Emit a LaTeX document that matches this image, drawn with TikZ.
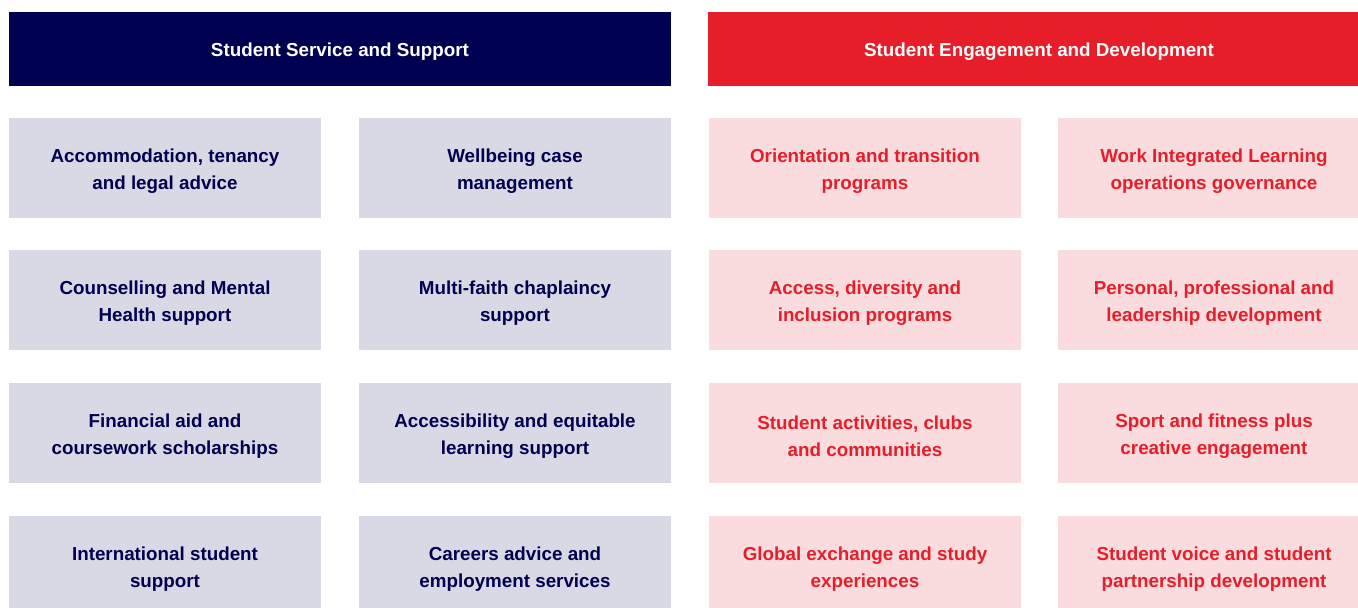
\documentclass[tikz,border=0pt]{standalone}
\usepackage{fontspec}
\setmainfont{Liberation Sans}
\definecolor{navy}{HTML}{000050}
\definecolor{brandred}{HTML}{E61E2A}
\definecolor{greybox}{HTML}{D9D9E5}
\definecolor{pinkbox}{HTML}{FADCDF}
% a filled panel with its caption set slightly below the optical centre
% #1 name, #2 top-left corner, #3 style, #4 caption
\newcommand{\panel}[4]{%
  \node[#3] (#1) at (#2) {};
  \node[#3 text] (#1-t) at ([yshift=-3pt]#1.center) {#4};}
\begin{document}
\begin{tikzpicture}[x=1pt,y=-1pt,
  cellfont/.style={font=\fontsize{18.8}{27}\selectfont\bfseries,align=center,inner sep=0pt},
  header/.style={anchor=north west,inner sep=0pt,outer sep=0pt,minimum width=662pt,minimum height=74pt},
  svchead/.style={header,fill=navy},
  enghead/.style={header,fill=brandred},
  svchead text/.style={cellfont,text=white},
  enghead text/.style={cellfont,text=white},
  svcbox/.style={anchor=north west,inner sep=0pt,outer sep=0pt,minimum width=312pt,minimum height=100pt,fill=greybox},
  engbox/.style={svcbox,fill=pinkbox},
  svcbox text/.style={cellfont,text=navy},
  engbox text/.style={cellfont,text=brandred}]
\useasboundingbox (0,0) rectangle (1358,608);
\fill[white] (0,0) rectangle (1358,608);
\begin{scope}
\clip (0,0) rectangle (1358,608);
% headers
\panel{hsvc}{9,12}{svchead}{Student Service and Support}
\panel{heng}{708,12}{enghead}{Student Engagement and Development}
% student service and support
\panel{s11}{9,118}{svcbox}{Accommodation, tenancy\\and legal advice}
\panel{s12}{359,118}{svcbox}{Wellbeing case\\management}
\panel{s21}{9,250}{svcbox}{Counselling and Mental\\Health support}
\panel{s22}{359,250}{svcbox}{Multi-faith chaplaincy\\support}
\panel{s31}{9,383}{svcbox}{Financial aid and\\coursework scholarships}
\panel{s32}{359,383}{svcbox}{Accessibility and equitable\\learning support}
\panel{s41}{9,516}{svcbox}{International student\\support}
\panel{s42}{359,516}{svcbox}{Careers advice and\\employment services}
% student engagement and development
\panel{e11}{709,118}{engbox}{Orientation and transition\\programs}
\panel{e12}{1058,118}{engbox}{Work Integrated Learning\\operations governance}
\panel{e21}{709,250}{engbox}{Access, diversity and\\inclusion programs}
\panel{e22}{1058,250}{engbox}{Personal, professional and\\leadership development}
\panel{e31}{709,383}{engbox}{Student activities, clubs\\and communities}
\panel{e32}{1058,383}{engbox}{Sport and fitness plus\\creative engagement}
\panel{e41}{709,516}{engbox}{Global exchange and study\\experiences}
\panel{e42}{1058,516}{engbox}{Student voice and student\\partnership development}
\end{scope}
\end{tikzpicture}
\end{document}
